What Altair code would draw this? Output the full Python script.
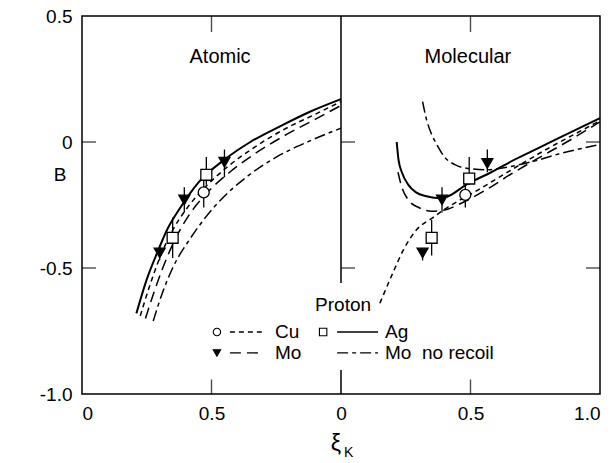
import altair as alt
import pandas as pd

FONT = "Liberation Sans"

# ---------------- curves (xi_K, B) ----------------
# Atomic panel
at_ag_x = [0.21, 0.25, 0.29, 0.33, 0.38, 0.45, 0.55, 0.65, 0.77, 0.88, 1.0]
at_ag_b = [-0.68, -0.545, -0.44, -0.345, -0.26, -0.16, -0.07, 0.0, 0.065, 0.12, 0.17]
at_cu_x = [0.225, 0.26, 0.30, 0.35, 0.40, 0.47, 0.56, 0.66, 0.78, 0.89, 1.0]
at_cu_b = [-0.69, -0.575, -0.46, -0.35, -0.27, -0.185, -0.10, -0.025, 0.05, 0.105, 0.16]
at_mo_x = [0.245, 0.28, 0.31, 0.36, 0.41, 0.48, 0.57, 0.67, 0.79, 0.90, 1.0]
at_mo_b = [-0.70, -0.59, -0.505, -0.385, -0.295, -0.205, -0.12, -0.045, 0.03, 0.09, 0.145]
at_nr_x = [0.275, 0.31, 0.35, 0.42, 0.48, 0.545, 0.64, 0.75, 0.87, 1.0]
at_nr_b = [-0.71, -0.60, -0.50, -0.38, -0.295, -0.22, -0.135, -0.06, 0.0, 0.055]

# Molecular panel
mo_ag_x = [0.215, 0.222, 0.235, 0.26, 0.29, 0.33, 0.37, 0.40, 0.49, 0.58, 0.67, 0.76, 0.84, 0.92, 1.0]
mo_ag_b = [0.0, -0.07, -0.12, -0.17, -0.20, -0.215, -0.222, -0.22, -0.165, -0.12, -0.07, -0.025, 0.015, 0.055, 0.095]
mo_mo_x = [0.22, 0.235, 0.26, 0.30, 0.35, 0.40, 0.46, 0.56, 0.66, 0.76, 0.88, 1.0]
mo_mo_b = [-0.12, -0.18, -0.23, -0.26, -0.275, -0.27, -0.245, -0.19, -0.125, -0.065, 0.005, 0.08]
mo_cu_x = [0.15, 0.20, 0.24, 0.29, 0.355, 0.41, 0.46, 0.53, 0.61, 0.70, 0.80, 0.90, 1.0]
mo_cu_b = [-0.64, -0.52, -0.43, -0.35, -0.30, -0.26, -0.23, -0.19, -0.14, -0.085, -0.025, 0.03, 0.085]
mo_nr_x = [0.315, 0.33, 0.35, 0.37, 0.40, 0.44, 0.49, 0.56, 0.64, 0.73, 0.85, 1.0]
mo_nr_b = [0.16, 0.09, 0.03, -0.01, -0.06, -0.09, -0.105, -0.11, -0.10, -0.08, -0.045, -0.01]

# ---------------- measured points ----------------
pt_panel = ["Atomic"] * 6 + ["Molecular"] * 6
pt_target = ["Cu", "Ag", "Ag", "Mo", "Mo", "Mo", "Cu", "Ag", "Ag", "Mo", "Mo", "Mo"]
pt_x = [0.47, 0.35, 0.48, 0.30, 0.395, 0.55, 0.48, 0.35, 0.495, 0.315, 0.39, 0.565]
pt_b = [-0.20, -0.38, -0.13, -0.44, -0.23, -0.08, -0.21, -0.38, -0.145, -0.44, -0.23, -0.085]
pt_lo = [-0.26, -0.46, -0.17, -0.47, -0.28, -0.14, -0.26, -0.45, -0.17, -0.47, -0.28, -0.12]
pt_hi = [-0.15, -0.30, -0.06, -0.41, -0.18, -0.03, -0.16, -0.31, -0.06, -0.42, -0.18, -0.03]

# ---------------- axes ----------------
x_tick_vals = [0, 0.5, 1, 1.5, 2]
x_tick_text = ["0", "0.5", "0", "0.5", "1.0"]
y_tick_vals = [-1.0, -0.5, 0, 0.5]
y_tick_text = ["-1.0", "-0.5", "0", "0.5"]
inner_y_ticks = [0, -0.5]
inner_x_ticks = [0.5, 1.5]

# middle separator (interrupted by the legend)
mid_top = [0.5, -0.905]
mid_bot = [-0.56, -1.0]


def expr_map(vals, texts):
    parts = []
    for v, t in zip(vals, texts):
        parts.append(f"abs(datum.value - ({v})) < 1e-6 ? '{t}' : ")
    return "".join(parts) + "''"


xscale = alt.Scale(domain=[0, 2], nice=False, zero=False)
yscale = alt.Scale(domain=[-1.0, 0.5], nice=False, zero=False)
xaxis = alt.Axis(values=x_tick_vals, labelExpr=expr_map(x_tick_vals, x_tick_text),
                 title=None, ticks=False, domain=False, grid=False, labelPadding=10,
                 labelFontSize=19, labelFont=FONT, labelColor="black")
yaxis = alt.Axis(values=y_tick_vals, labelExpr=expr_map(y_tick_vals, y_tick_text),
                 title=None, ticks=False, domain=False, grid=False, labelPadding=10,
                 labelFontSize=19, labelFont=FONT, labelColor="black", labelBaseline="middle")


def curves(panel, series, xs, bs):
    return pd.DataFrame({"panel": panel, "series": series, "xi": xs, "B": bs,
                         "order": list(range(len(xs)))})


curve_df = pd.concat([
    curves("Atomic", "Ag", at_ag_x, at_ag_b),
    curves("Atomic", "Cu", at_cu_x, at_cu_b),
    curves("Atomic", "Mo", at_mo_x, at_mo_b),
    curves("Atomic", "Mo no recoil", at_nr_x, at_nr_b),
    curves("Molecular", "Ag", mo_ag_x, mo_ag_b),
    curves("Molecular", "Cu", mo_cu_x, mo_cu_b),
    curves("Molecular", "Mo", mo_mo_x, mo_mo_b),
    curves("Molecular", "Mo no recoil", mo_nr_x, mo_nr_b),
], ignore_index=True)

pts_df = pd.DataFrame({"panel": pt_panel, "target": pt_target, "xi": pt_x,
                       "B": pt_b, "lo": pt_lo, "hi": pt_hi})

shift = "datum.xi + (datum.panel == 'Molecular' ? 1 : 0)"

styles = {
    "Cu": dict(strokeDash=[5, 4], strokeWidth=1.5),
    "Ag": dict(strokeWidth=2.0),
    "Mo": dict(strokeDash=[11, 6], strokeWidth=1.5),
    "Mo no recoil": dict(strokeDash=[11, 4, 4, 4], strokeWidth=1.5),
}

layers = []

# frame
layers.append(
    alt.Chart(pd.DataFrame({"x0": [0], "x1": [2], "y0": [-1.0], "y1": [0.5]}))
    .mark_rect(fill="white", stroke="black", strokeWidth=1.5)
    .encode(x=alt.X("x0:Q", scale=xscale, axis=xaxis), x2="x1:Q",
            y=alt.Y("y0:Q", scale=yscale, axis=yaxis), y2="y1:Q")
)

base_curves = alt.Chart(curve_df).transform_calculate(xp=shift)
for s, st in styles.items():
    layers.append(
        base_curves.transform_filter(alt.datum.series == s)
        .mark_line(color="black", interpolate="monotone", **st)
        .encode(x=alt.X("xp:Q", scale=xscale, axis=xaxis),
                y=alt.Y("B:Q", scale=yscale, axis=yaxis),
                detail="panel:N",
                order="order:Q")
    )

base_pts = alt.Chart(pts_df).transform_calculate(xp=shift)
layers.append(
    base_pts.mark_rule(color="black", strokeWidth=1.3)
    .encode(x="xp:Q", y="lo:Q", y2="hi:Q")
)
shape_scale = alt.Scale(domain=["Cu", "Ag", "Mo"], range=["circle", "square", "triangle-down"])
fill_scale = alt.Scale(domain=["Cu", "Ag", "Mo"], range=["white", "white", "black"])
layers.append(
    base_pts.mark_point(stroke="black", strokeWidth=1.3, opacity=1, filled=True, size=120)
    .encode(x="xp:Q", y="B:Q",
            shape=alt.Shape("target:N", scale=shape_scale, legend=None),
            fill=alt.Fill("target:N", scale=fill_scale, legend=None))
)

# ---------------- frame ticks ----------------
ytick_df = pd.DataFrame({"B": inner_y_ticks})
for edge, off in [(0, 7), (1, 7), (2, -7)]:
    layers.append(
        alt.Chart(ytick_df).mark_tick(color="black", orient="horizontal", size=14,
                                      thickness=1.4, xOffset=off)
        .encode(x=alt.datum(edge), y="B:Q")
    )
xtick_df = pd.DataFrame({"xp": inner_x_ticks})
layers.append(
    alt.Chart(xtick_df).mark_tick(color="black", orient="vertical", size=16,
                                  thickness=1.4, yOffset=8)
    .encode(x="xp:Q", y=alt.datum(0.5))
)
layers.append(
    alt.Chart(xtick_df).mark_tick(color="black", orient="vertical", size=15,
                                  thickness=1.4, yOffset=-7)
    .encode(x="xp:Q", y=alt.datum(-1.0))
)
mid_df = pd.DataFrame({"y1": mid_top, "y2": mid_bot})
layers.append(
    alt.Chart(mid_df).mark_rule(color="black", strokeWidth=1.5)
    .encode(x=alt.datum(1), y="y1:Q", y2="y2:Q")
)

# ---------------- panel titles ----------------
title_df = pd.DataFrame({"xp": [0.533, 1.49], "B": [0.337, 0.337],
                         "t": ["Atomic", "Molecular"]})
layers.append(
    alt.Chart(title_df).mark_text(font=FONT, fontSize=20, color="black")
    .encode(x="xp:Q", y="B:Q", text="t:N")
)

# ---------------- legend (drawn in data space) ----------------
leg_rows = [-0.754, -0.837]
leg_sym_df = pd.DataFrame({"xp": [0.521, 0.931, 0.521], "B": [leg_rows[0], leg_rows[0], leg_rows[1]],
                           "target": ["Cu", "Ag", "Mo"]})
layers.append(
    alt.Chart(leg_sym_df).mark_point(stroke="black", strokeWidth=1.1, opacity=1, filled=True, size=55)
    .encode(x="xp:Q", y="B:Q",
            shape=alt.Shape("target:N", scale=shape_scale, legend=None),
            fill=alt.Fill("target:N", scale=fill_scale, legend=None))
)
leg_lines = [("Cu", 0.571, 0.699, leg_rows[0]), ("Ag", 0.985, 1.143, leg_rows[0]),
             ("Mo", 0.571, 0.699, leg_rows[1]), ("Mo no recoil", 0.985, 1.143, leg_rows[1])]
for s, a, b, yv in leg_lines:
    st = dict(styles[s])
    st["strokeWidth"] = 1.4
    layers.append(
        alt.Chart(pd.DataFrame({"xa": [a], "xb": [b], "B": [yv]}))
        .mark_rule(color="black", **st)
        .encode(x="xa:Q", x2="xb:Q", y="B:Q")
    )
leg_txt_df = pd.DataFrame({"xp": [0.745, 1.170, 0.745, 1.170],
                           "B": [leg_rows[0], leg_rows[0], leg_rows[1], leg_rows[1]],
                           "t": ["Cu", "Ag", "Mo", "Mo\u00a0 no recoil"]})
layers.append(
    alt.Chart(leg_txt_df).mark_text(font=FONT, fontSize=19, color="black", align="left",
                                    baseline="middle")
    .encode(x="xp:Q", y="B:Q", text="t:N")
)
layers.append(
    alt.Chart(pd.DataFrame({"xp": [1.008], "B": [-0.647], "t": ["Proton"]}))
    .mark_text(font=FONT, fontSize=19, color="black", baseline="middle")
    .encode(x="xp:Q", y="B:Q", text="t:N")
)

# ---------------- axis titles ----------------
layers.append(
    alt.Chart(pd.DataFrame({"xp": [0.98], "B": [-1.2], "t": ["\u03be"]}))
    .mark_text(font=FONT, fontSize=23, color="black", baseline="middle")
    .encode(x="xp:Q", y="B:Q", text="t:N")
)
layers.append(
    alt.Chart(pd.DataFrame({"xp": [1.03], "B": [-1.235], "t": ["K"]}))
    .mark_text(font=FONT, fontSize=14, color="black", baseline="middle")
    .encode(x="xp:Q", y="B:Q", text="t:N")
)
layers.append(
    alt.Chart(pd.DataFrame({"xp": [-0.085], "B": [-0.13], "t": ["B"]}))
    .mark_text(font=FONT, fontSize=19, color="black", baseline="middle")
    .encode(x="xp:Q", y="B:Q", text="t:N")
)

chart = alt.layer(*layers).properties(
    width=518, height=378,
    autosize=alt.AutoSizeParams(type="none"),
    padding={"left": 82, "top": 16, "right": 11, "bottom": 69},
    background="white",
).configure_view(strokeWidth=0).configure_axis(grid=False)

chart.save("out.html", embed_options={"renderer": "svg", "actions": False})
